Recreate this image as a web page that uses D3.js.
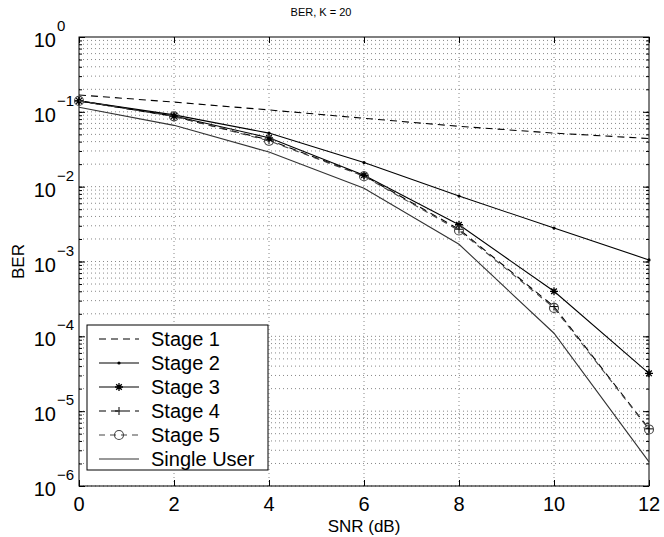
<!DOCTYPE html>
<html>
<head>
<meta charset="utf-8">
<script src="https://cdn.jsdelivr.net/npm/d3@7"></script>
<style>
  body { margin: 0; background: white; }
  text { font-family: "Liberation Sans", Arial, sans-serif; fill: #000; }
</style>
</head>
<body>
<div id="container"></div>
<script>
let w = 664;
let h = 537;

// data
let snr = [0, 2, 4, 6, 8, 10, 12];
let stage1 = [0.168, 0.135, 0.106, 0.082, 0.064, 0.052, 0.044];
let stage2 = [0.14, 0.091, 0.052, 0.021, 0.0075, 0.0028, 0.00105];
let stage3 = [0.14, 0.088, 0.045, 0.0142, 0.0031, 0.0004, 0.000032];
let stage4 = [0.14, 0.087, 0.042, 0.014, 0.0027, 0.00025, 0.0000058];
let stage5 = [0.14, 0.087, 0.041, 0.0138, 0.0026, 0.00024, 0.0000057];
let singleUser = [0.115, 0.066, 0.029, 0.0095, 0.0017, 0.00011, 0.0000021];

let seriesNames = ["Stage 1", "Stage 2", "Stage 3", "Stage 4", "Stage 5", "Single User"];
let xTicks = [0, 2, 4, 6, 8, 10, 12];
let yExps = [0, -1, -2, -3, -4, -5, -6];

let pLeft = 79, pRight = 649, pTop = 37, pBottom = 486;

let viz = d3.select("#container")
  .append("svg")
    .attr("width", w)
    .attr("height", h)
    .style("background-color", "white");

let xScale = d3.scaleLinear().domain([0, 12]).range([pLeft, pRight]);
let yScale = d3.scaleLog().domain([1e-6, 1]).range([pBottom, pTop]);

// grid
let gridGroup = viz.append("g").classed("grid", true);
let minorVals = [];
for (let e = -6; e < 0; e++) {
  for (let k = 1; k <= 9; k++) minorVals.push(k * Math.pow(10, e));
}
gridGroup.selectAll(".hgrid").data(minorVals).enter()
  .append("line")
    .attr("x1", pLeft).attr("x2", pRight)
    .attr("y1", d => yScale(d)).attr("y2", d => yScale(d))
    .attr("stroke", "#888")
    .attr("stroke-width", 1)
    .attr("stroke-dasharray", "1,3");
gridGroup.selectAll(".vgrid").data(xTicks.slice(1, -1)).enter()
  .append("line")
    .attr("x1", d => xScale(d)).attr("x2", d => xScale(d))
    .attr("y1", pTop).attr("y2", pBottom)
    .attr("stroke", "#888")
    .attr("stroke-width", 1)
    .attr("stroke-dasharray", "1,3");

// axes with inward ticks
let majorY = yExps.map(e => Math.pow(10, e));
let axisG = viz.append("g");
axisG.append("g").attr("transform", `translate(0,${pBottom})`)
  .call(d3.axisBottom(xScale).tickValues(xTicks).tickSize(-6).tickFormat(""));
axisG.append("g").attr("transform", `translate(0,${pTop})`)
  .call(d3.axisTop(xScale).tickValues(xTicks).tickSize(-6).tickFormat(""));
axisG.append("g").attr("transform", `translate(${pLeft},0)`)
  .call(d3.axisLeft(yScale).tickValues(minorVals).tickSize(-3).tickFormat(""));
axisG.append("g").attr("transform", `translate(${pRight},0)`)
  .call(d3.axisRight(yScale).tickValues(minorVals).tickSize(-3).tickFormat(""));
axisG.append("g").attr("transform", `translate(${pLeft},0)`)
  .call(d3.axisLeft(yScale).tickValues(majorY).tickSize(-6).tickFormat(""));
axisG.append("g").attr("transform", `translate(${pRight},0)`)
  .call(d3.axisRight(yScale).tickValues(majorY).tickSize(-6).tickFormat(""));
axisG.selectAll(".domain").remove();
axisG.selectAll("line").attr("stroke", "#000");

viz.append("rect")
  .attr("x", pLeft).attr("y", pTop)
  .attr("width", pRight - pLeft).attr("height", pBottom - pTop)
  .attr("fill", "none").attr("stroke", "#000").attr("stroke-width", 1);

// tick labels
viz.selectAll(".xlab").data(xTicks).enter()
  .append("text")
    .attr("x", d => xScale(d))
    .attr("y", 511)
    .attr("text-anchor", "middle")
    .style("font-size", "20px")
    .text(d => d);

viz.selectAll(".ylab").data(yExps).enter()
  .append("text")
    .attr("x", 56)
    .attr("y", d => yScale(Math.pow(10, d)) + 10)
    .attr("text-anchor", "end")
    .style("font-size", "20px")
    .text("10");
viz.selectAll(".yexp").data(yExps).enter()
  .append("text")
    .attr("x", 57)
    .attr("y", d => yScale(Math.pow(10, d)) - 6)
    .style("font-size", "15px")
    .text(d => d == 0 ? "0" : "\u2212" + (-d));

viz.append("text")
  .attr("x", 321).attr("y", 16)
  .attr("text-anchor", "middle")
  .style("font-size", "11px")
  .text("BER, K = 20");
viz.append("text")
  .attr("x", (pLeft + pRight) / 2).attr("y", 532)
  .attr("text-anchor", "middle")
  .style("font-size", "17px")
  .text("SNR (dB)");
viz.append("text")
  .attr("transform", `translate(24,${(pTop + pBottom) / 2}) rotate(-90)`)
  .attr("text-anchor", "middle")
  .style("font-size", "17px")
  .text("BER");

// series
let series = [
  {name: seriesNames[0], values: stage1, dash: "7,5", color: "#000", marker: "none"},
  {name: seriesNames[1], values: stage2, dash: null, color: "#000", marker: "dot"},
  {name: seriesNames[2], values: stage3, dash: null, color: "#000", marker: "star"},
  {name: seriesNames[3], values: stage4, dash: "7,5", color: "#000", marker: "plus"},
  {name: seriesNames[4], values: stage5, dash: "6,5", color: "#444", marker: "circle"},
  {name: seriesNames[5], values: singleUser, dash: null, color: "#333", marker: "none"}
];

let line = d3.line()
  .x((d, i) => xScale(snr[i]))
  .y(d => yScale(d));

function drawMarker(g, type, x, y, color) {
  if (type == "dot") {
    g.append("circle").attr("cx", x).attr("cy", y).attr("r", 1.6).attr("fill", color);
  } else if (type == "star") {
    let s = 4;
    g.append("path")
      .attr("d", `M${x - s},${y} L${x + s},${y} M${x},${y - s} L${x},${y + s} M${x - s * 0.7},${y - s * 0.7} L${x + s * 0.7},${y + s * 0.7} M${x - s * 0.7},${y + s * 0.7} L${x + s * 0.7},${y - s * 0.7}`)
      .attr("stroke", color).attr("stroke-width", 1.3).attr("fill", "none");
  } else if (type == "plus") {
    let s = 4;
    g.append("path")
      .attr("d", `M${x - s},${y} L${x + s},${y} M${x},${y - s} L${x},${y + s}`)
      .attr("stroke", color).attr("stroke-width", 1).attr("fill", "none");
  } else if (type == "circle") {
    g.append("circle").attr("cx", x).attr("cy", y).attr("r", 4.5)
      .attr("stroke", color).attr("stroke-width", 1.1).attr("fill", "none");
  }
}

let seriesGroup = viz.append("g");
series.forEach(s => {
  let g = seriesGroup.append("g");
  g.append("path")
    .attr("d", line(s.values))
    .attr("fill", "none")
    .attr("stroke", s.color)
    .attr("stroke-width", 1.1)
    .attr("stroke-dasharray", s.dash);
  s.values.forEach((v, i) => drawMarker(g, s.marker, xScale(snr[i]), yScale(v), s.color));
});

// legend
let legend = viz.append("g");
legend.append("rect")
  .attr("x", 87).attr("y", 325)
  .attr("width", 181).attr("height", 145)
  .attr("fill", "white").attr("stroke", "#000").attr("stroke-width", 1);
series.forEach((s, i) => {
  let cy = 339 + i * 24;
  legend.append("line")
    .attr("x1", 99).attr("x2", 139)
    .attr("y1", cy).attr("y2", cy)
    .attr("stroke", s.color).attr("stroke-width", 1.1)
    .attr("stroke-dasharray", s.dash);
  drawMarker(legend, s.marker, 119, cy, s.color);
  legend.append("text")
    .attr("x", 151).attr("y", cy + 7)
    .style("font-size", "20px")
    .text(s.name);
});
</script>
</body>
</html>
